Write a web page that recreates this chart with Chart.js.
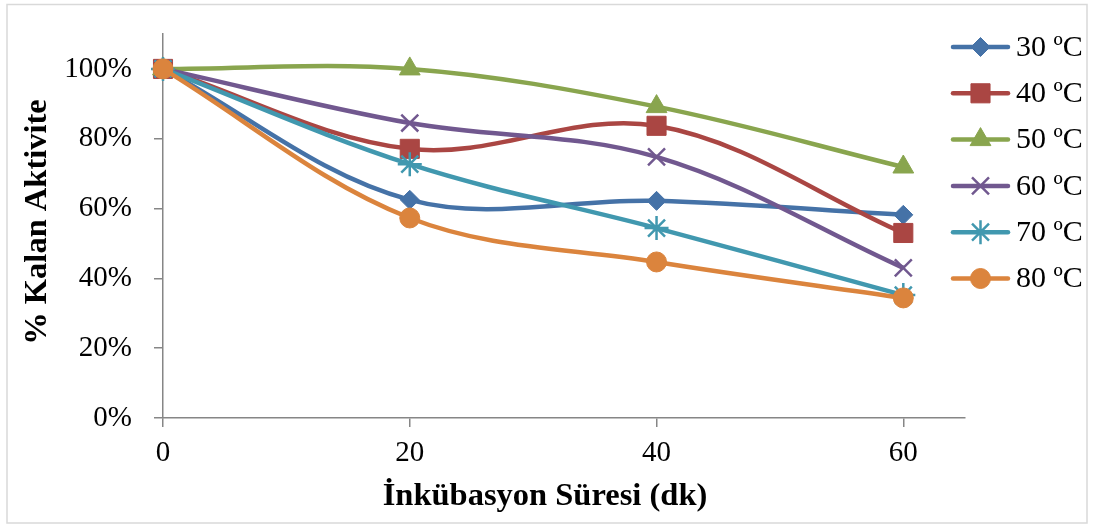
<!DOCTYPE html>
<html>
<head>
<meta charset="utf-8">
<script src="https://cdn.jsdelivr.net/npm/chart.js@4"></script>
<style>
  html, body { margin: 0; padding: 0; background: #ffffff; }
  #wrap { width: 1093px; height: 527px; }
</style>
</head>
<body>
<div id="wrap"><canvas id="c" width="1093" height="527"></canvas></div>
<script>
// Incubation time (min) and residual activity (fraction of initial)
const times = [0, 20, 40, 60];
const seriesLabels = ['30 ºC', '40 ºC', '50 ºC', '60 ºC', '70 ºC', '80 ºC'];
const act30 = [1.00, 0.625, 0.622, 0.582];
const act40 = [1.00, 0.771, 0.837, 0.530];
const act50 = [1.00, 1.000, 0.892, 0.719];
const act60 = [1.00, 0.845, 0.748, 0.430];
const act70 = [1.00, 0.727, 0.544, 0.352];
const act80 = [1.00, 0.573, 0.447, 0.344];
const xTickValues = [0, 20, 40, 60];
const yTickValues = [0, 0.2, 0.4, 0.6, 0.8, 1.0];

const colors = ['#4572A7', '#AA4643', '#89A54E', '#71588F', '#4198AF', '#DB843D'];
const styles = [
  { pointStyle: 'rectRot', radius: 9.5, borderWidth: 1 },
  { pointStyle: 'rect', radius: 13.5, borderWidth: 1 },
  { pointStyle: 'triangle', radius: 12, borderWidth: 1 },
  { pointStyle: 'crossRot', radius: 12, borderWidth: 2.5 },
  { pointStyle: 'star', radius: 12, borderWidth: 2.5 },
  { pointStyle: 'circle', radius: 10, borderWidth: 1 }
];
const allSeries = [act30, act40, act50, act60, act70, act80];

const serif = "'Liberation Serif', 'Times New Roman', serif";
Chart.defaults.font.family = serif;
Chart.defaults.color = '#000000';

const datasets = allSeries.map((vals, i) => ({
  label: seriesLabels[i],
  data: times.map((t, j) => ({ x: t, y: vals[j] })),
  borderColor: colors[i],
  backgroundColor: colors[i],
  borderWidth: 4.5,
  tension: 0.35,
  pointStyle: styles[i].pointStyle,
  pointRadius: styles[i].radius,
  pointHoverRadius: styles[i].radius,
  pointBorderWidth: styles[i].borderWidth,
  pointBorderColor: colors[i],
  pointBackgroundColor: colors[i],
  clip: false,
  order: allSeries.length - i
}));

// White page with a thin grey frame
const framePlugin = {
  id: 'frame',
  beforeDraw(chart) {
    const ctx = chart.ctx;
    ctx.save();
    ctx.fillStyle = '#ffffff';
    ctx.fillRect(0, 0, chart.width, chart.height);
    ctx.strokeStyle = '#D9D9D9';
    ctx.lineWidth = 1.5;
    ctx.strokeRect(7, 4.5, 1080, 518.5);
    ctx.restore();
  }
};

// Axis titles
const titlePlugin = {
  id: 'axisTitles',
  afterDraw(chart) {
    const ctx = chart.ctx;
    ctx.save();
    ctx.fillStyle = '#000000';
    ctx.font = "bold 32.5px " + serif;
    ctx.textAlign = 'center';
    ctx.textBaseline = 'middle';
    ctx.fillText('İnkübasyon Süresi (dk)', 545, 497);
    ctx.translate(38, 222);
    ctx.rotate(-Math.PI / 2);
    ctx.fillText('% Kalan Aktivite', 0, 0);
    ctx.restore();
  }
};

// Legend with line + marker samples on the right
const legendPlugin = {
  id: 'lineLegend',
  afterDraw(chart) {
    const ctx = chart.ctx;
    const x0 = 953, x1 = 1008, xt = 1016;
    const y0 = 47, dy = 46.3;
    chart.data.datasets.forEach((ds, i) => {
      const y = y0 + i * dy;
      ctx.save();
      ctx.strokeStyle = ds.borderColor;
      ctx.lineWidth = ds.borderWidth;
      ctx.lineCap = 'round';
      ctx.beginPath();
      ctx.moveTo(x0, y);
      ctx.lineTo(x1, y);
      ctx.stroke();
      ctx.fillStyle = ds.pointBackgroundColor;
      ctx.strokeStyle = ds.pointBorderColor;
      ctx.lineWidth = ds.pointBorderWidth;
      ctx.lineCap = 'butt';
      Chart.helpers.drawPoint(ctx, {
        pointStyle: ds.pointStyle,
        radius: ds.pointRadius,
        rotation: 0,
        borderWidth: ds.pointBorderWidth
      }, (x0 + x1) / 2, y);
      ctx.fillStyle = '#000000';
      ctx.font = "30px " + serif;
      ctx.textAlign = 'left';
      ctx.textBaseline = 'middle';
      ctx.fillText(ds.label, xt, y + 1);
      ctx.restore();
    });
  }
};

new Chart(document.getElementById('c'), {
  type: 'line',
  data: { datasets },
  plugins: [framePlugin, titlePlugin, legendPlugin],
  options: {
    responsive: false,
    animation: false,
    events: [],
    layout: { padding: { top: 34, right: 128, left: 0, bottom: 0 } },
    plugins: { legend: { display: false }, tooltip: { enabled: false } },
    scales: {
      x: {
        type: 'linear',
        min: 0,
        max: 65,
        afterFit(scale) {
          scale.height = 109;
          scale.paddingLeft = 0;
          scale.paddingRight = 0;
        },
        afterBuildTicks(scale) { scale.ticks = xTickValues.map(v => ({ value: v })); },
        ticks: { font: { size: 29 }, color: '#000000', padding: 9, maxRotation: 0, autoSkip: false },
        grid: { display: true, drawOnChartArea: false, drawTicks: true, tickLength: 9, color: '#868686', lineWidth: 1.5 },
        border: { display: true, color: '#868686', width: 1.5 }
      },
      y: {
        type: 'linear',
        min: 0,
        max: 1.1,
        afterFit(scale) {
          scale.width = 163;
          scale.paddingTop = 0;
          scale.paddingBottom = 0;
        },
        afterBuildTicks(scale) { scale.ticks = yTickValues.map(v => ({ value: v })); },
        ticks: {
          font: { size: 29 },
          color: '#000000',
          padding: 22,
          callback: v => Math.round(v * 100) + '%'
        },
        grid: { display: true, drawOnChartArea: false, drawTicks: true, tickLength: 9, color: '#868686', lineWidth: 1.5 },
        border: { display: true, color: '#868686', width: 1.5 }
      }
    }
  }
});
</script>
</body>
</html>
